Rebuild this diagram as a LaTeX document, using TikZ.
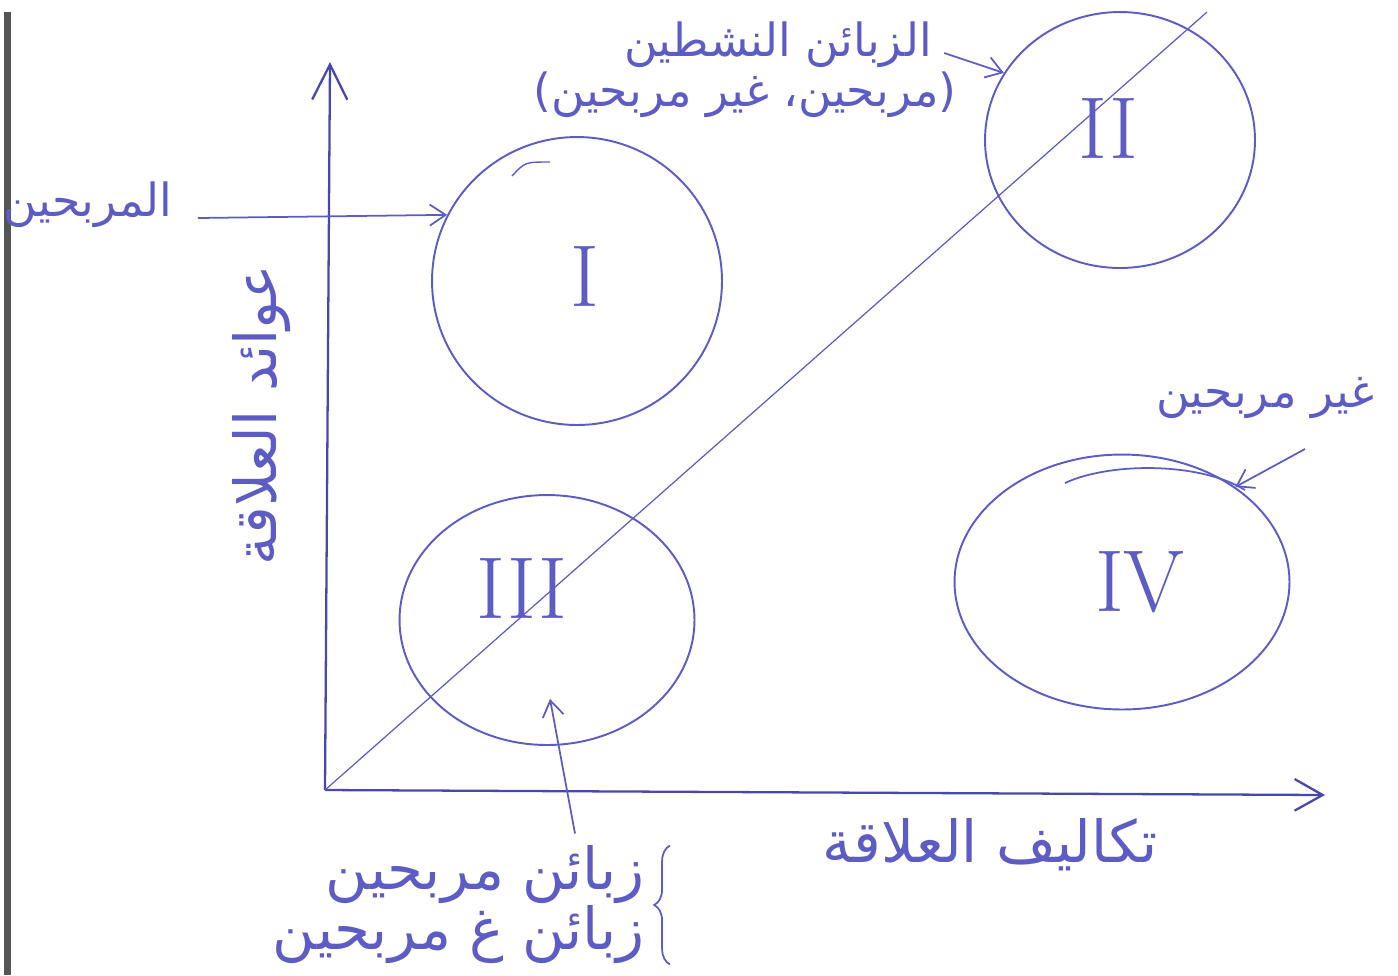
\documentclass[tikz,border=0pt]{standalone}
\usepackage{fontspec}
\usepackage{tikz}
\usetikzlibrary{shapes.geometric, positioning, arrows.meta, decorations.pathreplacing}
\TeXXeTstate=1
\newfontfamily\arabicfont[Script=Arabic]{DejaVu Sans}
\newcommand{\artxt}[1]{{\arabicfont\beginR #1\endR}}
\definecolor{InkBlue}{RGB}{92,92,196}
\definecolor{InkDark}{RGB}{72,72,170}
\definecolor{ScanGray}{RGB}{85,85,85}

\begin{document}
\begin{tikzpicture}[x=0.02cm, y=-0.02cm,
    ring/.style={ellipse, draw=InkBlue, line width=1.1pt, inner sep=0pt},
    num/.style={text=InkBlue, font=\fontsize{50}{50}\selectfont},
    lbl/.style={text=InkBlue, font=\fontsize{26}{30}\selectfont, inner sep=0pt},
    big/.style={font=\fontsize{33}{36}\selectfont},
    arr/.style={draw=InkBlue, line width=1pt, -{Straight Barb[length=9pt,width=12pt]}},
    axis/.style={draw=InkDark, line width=1.3pt},
    diag/.style={draw=InkBlue, line width=0.7pt}
  ]
  \useasboundingbox (0,0) rectangle (1398,975);
  \fill[ScanGray] (4,12) rectangle (11,975);

  % axes and diagonal
  \coordinate (o)    at (325,790);
  \coordinate (ytip) at (330,62);
  \coordinate (xtip) at (1325,795);
  \coordinate (dtop) at (1207,12);
  \draw[axis, -{Straight Barb[length=20pt,width=20pt]}] (o) -- (ytip);
  \draw[axis, -{Straight Barb[length=16pt,width=18pt]}] (o) -- (xtip);
  \draw[diag] (o) -- (dtop);

  % quadrants
  \node[ring, minimum width=5.8cm, minimum height=5.76cm] (c1) at (577,281) {};
  \node[ring, minimum width=5.4cm, minimum height=5.12cm] (c2) at (1120,140) {};
  \node[ring, minimum width=5.9cm, minimum height=5.0cm]  (c3) at (547,620) {};
  \node[ring, minimum width=6.7cm, minimum height=5.1cm]  (c4) at (1122,582) {};
  \draw[draw=InkBlue, line width=1pt] (1065,483) .. controls (1110,462) and (1200,462) .. (1245,490);
  \draw[draw=InkBlue, line width=0.8pt] (512,176) .. controls (525,162) .. (550,162);

  \node[num] (nI)   at (585,276) {I};
  \node[num] (nII)  at (1108,128) {II};
  \node[num] (nIII) at (522,588) {III};
  \node[num] (nIV)  at (1140,582) {IV};

  % labels
  \node[lbl] (lblTop)  at (778,45) {\artxt{الزبائن النشطين}};
  \node[lbl] (lblTop2) at (745,95) {{\arabicfont)\beginR مربحين، غير مربحين\endR(}};
  \node[lbl] (lblProf) at (88,205) {\artxt{المربحين}};
  \node[lbl] (lblUnprof) at (1265,398) {\artxt{غير مربحين}};
  \node[lbl, big, rotate=90] (lblRev) at (262,415) {\artxt{عوائد العلاقة}};
  \node[lbl, big] (lblCost) at (990,845) {\artxt{تكاليف العلاقة}};
  \node[lbl, big, anchor=east] (lblBot1) at (645,875) {\artxt{زبائن مربحين}};
  \node[lbl, big, anchor=east] (lblBot2) at (645,935) {\artxt{زبائن غ مربحين}};

  % pointers
  \draw[arr] ([shift={(25,13)}]lblProf.east) -- (c1.153);
  \draw[arr] ([shift={(12,8)}]lblTop.east) -- (c2.150);
  \draw[arr] ([shift={(40,30)}]lblUnprof.south) -- (c4.40);
  \draw[arr] ([shift={(-70,-12)}]lblBot1.north east) -- ([shift={(3,-47)}]c3.south);
  \draw[draw=InkBlue, line width=1pt, decorate, decoration={brace, amplitude=9pt}]
    ([xshift=0.5cm]lblBot2.south east) -- ([xshift=0.5cm]lblBot1.north east);
\end{tikzpicture}
\end{document}
